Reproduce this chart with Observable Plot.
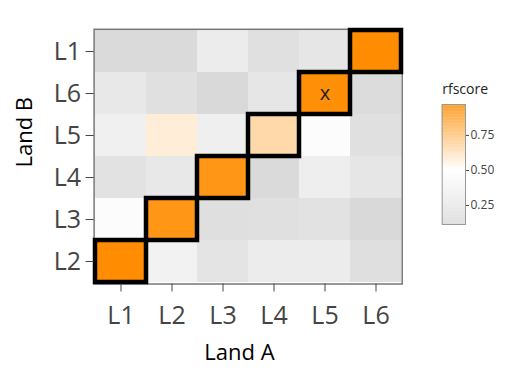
<!DOCTYPE html>
<html><head><meta charset="utf-8">
<script src="https://cdn.jsdelivr.net/npm/d3@7"></script>
<script src="https://cdn.jsdelivr.net/npm/@observablehq/plot@0.6"></script>
<style>
body{margin:0;background:#fff;}
#wrap{position:relative;width:509px;height:373px;font-family:"Open Sans",sans-serif;}
#wrap svg{position:absolute;top:0;}
</style>
</head><body><div id="wrap"></div>
<script>
// categories
const landA = ["L1","L2","L3","L4","L5","L6"];
const landB = ["L1","L6","L5","L4","L3","L2"]; // top to bottom
// rfscore per Land B row, columns in landA order
const rowL1 = [0.124, 0.124, 0.307, 0.185, 0.246, 0.97];
const rowL6 = [0.266, 0.185, 0.114, 0.246, 0.96, 0.144];
const rowL5 = [0.348, 0.572, 0.337, 0.657, 0.470, 0.185];
const rowL4 = [0.205, 0.266, 0.93, 0.124, 0.327, 0.246];
const rowL3 = [0.470, 0.93, 0.175, 0.185, 0.205, 0.114];
const rowL2 = [0.97, 0.368, 0.226, 0.307, 0.307, 0.175];
// highlighted (matched) pairs
const highlightA = ["L1","L2","L3","L4","L5","L6"];
const highlightB = ["L2","L3","L4","L5","L6","L1"];
// marked cell
const markA = ["L5"];
const markB = ["L6"];
const legendTicks = [0.25, 0.50, 0.75];
const scoreMin = 0.114, scoreMid = 0.5, scoreMax = 0.971;

const rows = {L1: rowL1, L6: rowL6, L5: rowL5, L4: rowL4, L3: rowL3, L2: rowL2};
const cells = [];
for (const b of landB) rows[b].forEach((v, i) => cells.push({a: landA[i], b, v}));
const highlight = highlightA.map((a, i) => ({a, b: highlightB[i]}));
const marks = markA.map((a, i) => ({a, b: markB[i]}));

const colorOpts = {type: "linear", domain: [scoreMin, scoreMid, scoreMax],
  range: ["#d9d9d9", "#ffffff", "#ff8c00"], interpolate: "rgb", clamp: true};

const mL = 93.6, mR = 107.3, mT = 28.8, mB = 89.5, W = 509, H = 373;
const panelCx = (mL + (W - mR)) / 2, panelCy = (mT + (H - mB)) / 2;

const main = Plot.plot({
  width: W, height: H,
  marginLeft: mL, marginRight: mR, marginTop: mT, marginBottom: mB,
  style: {fontFamily: "Open Sans", background: "transparent"},
  x: {domain: landA, padding: 0},
  y: {domain: landB, padding: 0},
  color: colorOpts,
  marks: [
    Plot.cell(cells, {x: "a", y: "b", fill: "v", inset: 0}),
    Plot.frame({stroke: "#777", strokeWidth: 1.5}),
    Plot.cell(highlight, {x: "a", y: "b", fill: "none", stroke: "black", strokeWidth: 4.5, inset: 0}),
    Plot.text(marks, {x: "a", y: "b", text: () => "x", fontSize: 20, fill: "#222"}),
    Plot.axisX({label: null, tickSize: 8, tickPadding: 14.5, fontSize: 25, color: "#444"}),
    Plot.axisY({label: null, tickSize: 8, tickPadding: 5, fontSize: 25, color: "#444"}),
    Plot.text(["Land A"], {frameAnchor: "bottom", text: d => d, dx: 239 - panelCx, dy: 68.5,
      fontSize: 22, fill: "black", lineAnchor: "middle"}),
    Plot.text(["Land B"], {frameAnchor: "left", text: d => d, rotate: -90, dx: 24 - mL, dy: 167 - panelCy,
      fontSize: 22, fill: "black", lineAnchor: "middle"})
  ]
});
main.style.left = "0px";

// legend colorbar
const LW = 100, LX = 409;
const stripes = d3.range(0, 160).map(i => {
  const lo = scoreMin + (scoreMax - scoreMin) * i / 160;
  const hi = scoreMin + (scoreMax - scoreMin) * (i + 1) / 160;
  return {lo, hi, mid: (lo + hi) / 2};
});
const legend = Plot.plot({
  width: LW, height: H,
  marginLeft: 441.7 - LX, marginRight: LW - (465 - LX), marginTop: 104, marginBottom: H - 224,
  style: {fontFamily: "Open Sans", background: "transparent", overflow: "visible"},
  x: {domain: [0, 1], axis: null},
  y: {domain: [scoreMin, scoreMax]},
  color: colorOpts,
  marks: [
    Plot.rect(stripes, {x1: 0, x2: 1, y1: "lo", y2: "hi", fill: "mid"}),
    Plot.frame({stroke: "#999", strokeWidth: 1}),
    Plot.axisY({anchor: "right", ticks: legendTicks, tickFormat: ".2f", tickSize: 3, tickPadding: 2,
      fontSize: 12, color: "#444", label: null}),
    Plot.text(["rfscore"], {frameAnchor: "top-left", text: d => d, dy: -15, textAnchor: "start",
      lineAnchor: "middle", fontSize: 14, fill: "#222"})
  ]
});
legend.style.left = LX + "px";

document.getElementById("wrap").append(main, legend);
</script>
</body></html>
